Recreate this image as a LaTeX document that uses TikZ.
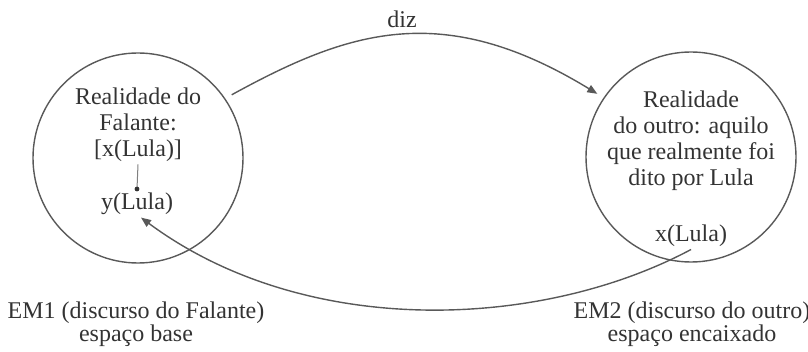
\documentclass[tikz,border=0pt]{standalone}
\usepackage{fontspec}
\setmainfont{Liberation Serif}
\usetikzlibrary{arrows.meta}
\begin{document}
\begin{tikzpicture}[x=0.5pt,y=-0.5pt,
  esp/.style={circle,draw=black!65,line width=0.7pt,minimum size=105pt,inner sep=0pt,outer sep=4pt},
  txt/.style={text=black!80,font=\fontsize{12}{13}\selectfont,align=center,inner sep=1pt},
  seta/.style={draw=black!65,line width=0.7pt,-{Triangle[length=5pt,width=4pt]}}]
\useasboundingbox (0,0) rectangle (808,352);
% os dois espacos mentais
\node[esp] (base) at (138,158) {}; \node[esp] (encx) at (691,157) {};
\node[txt] (falante) at (138,125) {Realidade do\\Falante:\\{[x(Lula)]}};
\node[txt,anchor=base] (ylula) at (137,210) {y(Lula)};
\node[txt] (outro) at (691,141) {Realidade\\do outro: aquilo\\que realmente foi\\dito por Lula};
\node[txt,anchor=base] (xlula) at (691,242) {x(Lula)};
\coordinate (ponto) at (137,189);
\draw[black!50,line width=0.5pt] (falante.south) -- (ponto); \fill[black!80] (ponto) circle (1.2pt);
% conectores
\draw[seta] (base.34) .. controls (348,31) and (442,-1) .. (encx.146);
\node[txt,anchor=base] (diz) at (402,28) {diz};
\draw[seta] (xlula.south) .. controls (540,330) and (305,339) .. ([xshift=2pt]ylula.south);
% rotulos
\node[txt,font=\fontsize{12}{11.5}\selectfont] (em1) at (136,324) {EM1 (discurso do Falante)\\espaço base};
\node[txt,font=\fontsize{12}{11.5}\selectfont] (em2) at (692,324) {EM2 (discurso do outro)\\espaço encaixado};
\end{tikzpicture}
\end{document}
